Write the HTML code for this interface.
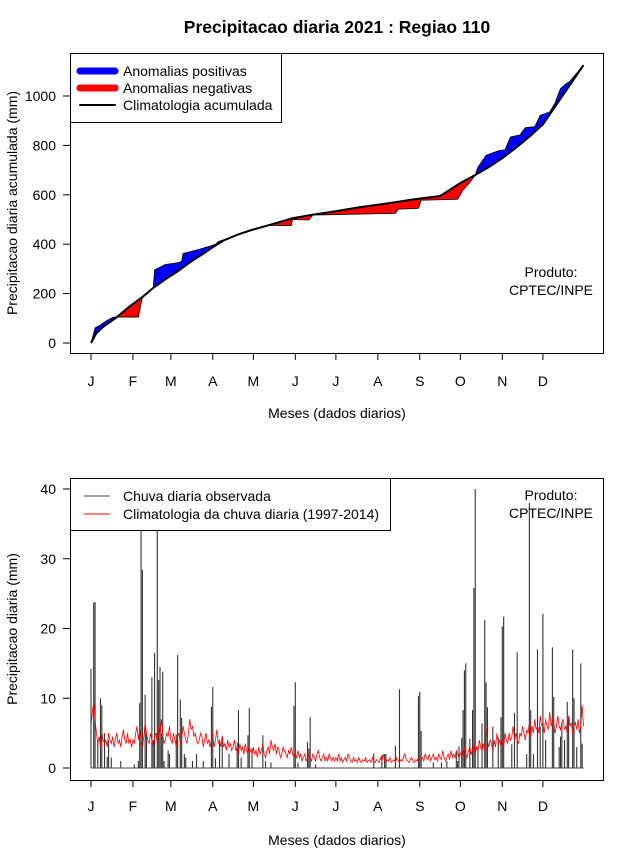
<!DOCTYPE html>
<html><head><meta charset="utf-8">
<style>
html,body{margin:0;padding:0;background:#fff;}
svg{display:block;font-family:"Liberation Sans",sans-serif;}
</style></head>
<body>
<svg id="c" width="640" height="850" viewBox="0 0 640 850"></svg>
<script>
// ---------- TOP CHART DATA (cumulative, mm) ----------
const climDays = [1,5,10,19,30,39,47,56,65,75,85,91,99,110,120,133,150,163,180,200,222,240,259,274,285,295,305,315,325,335,345,355,365];
const climCum  = [0,40,65,100,150,186,223,258,290,330,365,388,415,440,458,478,505,518,532,550,567,582,595,648,680,712,748,790,835,885,965,1045,1125];
const obsDays = [1,3,4,8,12,17,19,36,39,47,48,56,65,68,69,80,89,93,95,99,110,120,132,149,150,162,165,226,228,243,245,272,276,281,285,287,293,303,307,311,318,322,329,333,340,344,348,351,355,365];
const obsCum  = [0,40,61,73,88,103,105,105,186,223,296,318,325,330,362,378,392,400,410,418,440,458,476,476,500,498,518,525,542,545,578,582,620,650,680,712,760,780,782,834,842,872,876,922,935,972,1030,1045,1060,1125];
const topTicks = [0,200,400,600,800,1000];
const monthLabels = ["J","F","M","A","M","J","J","A","S","O","N","D"];
const monthStart = [1,32,60,91,121,152,182,213,244,274,305,335];
// ---------- BOTTOM CHART DATA (daily, mm) ----------
const rainDays = [1,3,4,6,8,9,11,13,14,16,23,33,36,37,38,39,41,42,46,47,48,50,51,52,53,54,55,58,59,64,65,67,68,70,71,76,79,84,90,91,93,96,98,103,109,110,112,117,118,120,128,130,134,151,152,154,161,162,163,167,210,216,218,219,226,229,243,244,245,254,260,264,271,272,273,275,276,277,278,281,283,284,285,287,290,292,293,294,298,302,304,305,306,312,314,316,323,325,326,328,331,333,335,337,342,343,347,348,349,351,353,354,357,358,360,363,364];
const rainVals = [14.2,23.7,23.8,4,10,9,5,1.6,4,1.5,1,0.5,1,9.3,39,28.4,10.5,5,13,4,16.5,39,12.6,14.5,5,13.8,1,2.5,2,4.8,16.2,9.8,7.2,2,1.5,1,2,1,8.8,11.6,1.4,3.6,4.6,2,3.6,8.3,1.5,4.7,8.6,2.8,4.7,1,0.8,8.9,12.3,0.8,3.7,2.8,7.3,0.5,2.1,1.8,2,2,3.2,11.3,10.3,10.9,5.3,0.8,0.8,1,2.2,1,3.1,4.3,8.3,14,15,4.2,8.3,25.8,40,3,6.4,21.2,12.3,8.7,5.9,4.4,7.3,20.3,21.7,3.4,7.9,16.6,2,38,8.3,2,17,5.9,22.1,4,17.3,10.2,3,4.5,6.5,4,9.5,7.2,17,10,3,15,3.5];
const climDaily = [
6,8,9.5,7,5,3.5,4.5,3,5,4,3.5,4,3,5,4,3.5,4.5,3,4,5,3.5,4,3,4.5,5.5,4,3.5,5,3.5,4,3,
4,3.5,5,6,4,5.5,4,3,4.5,6.5,5,4,3.5,5,4,3,4.5,5,3.5,6,4.5,7,5,3.5,4,5,4.5,6,
4,3.5,5,4,3,4.5,5,3.5,4,6,5,4,3.5,5,7,5.5,6,4.5,5,4,3.5,4,5,4.5,3,4,5,3.5,4,3,4,
5,3,4,5.5,3.5,4,3,4.5,3,3.5,2.5,4,3,3.5,2.5,3,4,2.5,3,2,3.5,2.5,3,2,3.5,2.5,2,3,2.5,2,
3,2,2.5,1.5,3,2,2.5,3.5,2,1.5,2.5,3,2,4,3,2.5,3.5,2,3,2.5,1.5,2,3,2.5,2,1.5,2.5,2,3,2,1.5,
2,1.5,2.5,1.5,2,1,1.5,2,1,1.5,2,1.5,1,2,1.5,1,2,2.5,1.5,1,1.5,2,1,1.5,1,2,1.5,1,1.5,1,
1.5,1,2,1,1.5,0.8,1.2,1.5,1,2,1.5,1,0.8,1.5,1,1.2,0.8,1.5,1,0.8,1.2,1,1.5,0.8,1,1.2,0.8,1.5,1,0.8,1.2,
1,0.8,1.5,1,2,1,0.8,1.2,1,1.5,0.8,1,1.2,0.8,1.5,1,0.8,1.2,1,1.5,2,1.2,1,0.8,1.2,1.5,1,0.8,1.2,1,1.5,
1,1.2,1.5,1,2,1.5,1.2,2,1,1.5,2,1.2,1.5,1,2,1.5,1.2,2.5,1.5,1,1.5,2,1.2,2.5,1.5,2,1.5,2.5,2,1.5,
2,2.5,1.5,3,2,1.5,2.5,3,2,2.5,3.5,2,3,2.5,4,3,2.5,3.5,2.5,6,4,3,4,3.5,2.5,4,3,5,3.5,4,3,
4,3,5,4,3.5,5,4,4.5,6,4,5,4,3.5,5,4.5,6,5,4,5.5,5,6.5,4.5,6,5,7,5.5,6,5,7.5,6,
6.5,5,7,6,5.5,8,6,7,6.5,5,6,7.5,6,5.5,6.5,7,5.5,6,5,7.5,6,6.5,5,6,6.5,5.5,7,5,6,9,6];
const botTicks = [0,10,20,30,40];

const NS="http://www.w3.org/2000/svg";
const svg=document.getElementById('c');
function mk(tag,attrs,parent){const e=document.createElementNS(NS,tag);for(const k in attrs)e.setAttribute(k,attrs[k]);(parent||svg).appendChild(e);return e;}
function txt(s,x,y,attrs,parent){const t=mk('text',Object.assign({x:x,y:y},attrs),parent);t.textContent=s;return t;}

const xDay=d=>91+(d-1)*1.353;
const yTop=v=>343-v*0.247;
const yBot=v=>768-v*6.975;

// title
let t=txt('Precipitacao diaria 2021 : Regiao 110',337,33,{'text-anchor':'middle','font-size':'17.5','font-weight':'bold'});



// ===== TOP CHART =====
const gTop=mk('g',{});


const defs=mk('defs',{});
const climPts=climDays.map((d,i)=>[xDay(d),yTop(climCum[i])]);
const obsPts=obsDays.map((d,i)=>[xDay(d),yTop(obsCum[i])]);
const climStr=climPts.map(p=>p.join(',')).join(' ');
let cpA=mk('clipPath',{id:'above'},defs);
mk('polygon',{points:xDay(1)+',0 '+climStr+' '+xDay(365)+',0'},cpA);
let cpB=mk('clipPath',{id:'below'},defs);
mk('polygon',{points:xDay(1)+',400 '+climStr+' '+xDay(365)+',400'},cpB);
const betweenStr=obsPts.map(p=>p.join(',')).join(' ')+' '+climPts.slice().reverse().map(p=>p.join(',')).join(' ');
let pos=mk('polygon',{points:betweenStr,fill:'#0000ff',stroke:'#000','stroke-width':'0.8','clip-path':'url(#above)'},gTop);


let neg=mk('polygon',{points:betweenStr,fill:'#ff0000',stroke:'#000','stroke-width':'0.8','clip-path':'url(#below)'},gTop);


let cl=mk('polyline',{points:climStr,fill:'none',stroke:'#000','stroke-width':'2'},gTop);


let fr=mk('rect',{x:70.5,y:53.5,width:533,height:300,fill:'none',stroke:'#000','stroke-width':'1'},gTop);


topTicks.forEach(v=>{
  mk('line',{x1:63,x2:70,y1:yTop(v),y2:yTop(v),stroke:'#000'},gTop);
  let l=txt(String(v),56,yTop(v)+5,{'text-anchor':'end','font-size':'14'},gTop);
  
  
});
monthStart.forEach((d,i)=>{
  mk('line',{x1:xDay(d),x2:xDay(d),y1:353,y2:360,stroke:'#000'},gTop);
  let l=txt(monthLabels[i],xDay(d),386,{'text-anchor':'middle','font-size':'14'},gTop);
  
  
});
t=txt('Meses (dados diarios)',337,418,{'text-anchor':'middle','font-size':'14'},gTop);


t=txt('Precipitacao diaria acumulada (mm)',0,0,{'text-anchor':'middle','font-size':'14',transform:'translate(17,203) rotate(-90)'},gTop);


t=txt('Produto:',551,277,{'text-anchor':'middle','font-size':'14'},gTop);


t=txt('CPTEC/INPE',551,295,{'text-anchor':'middle','font-size':'14'},gTop);


const lg=mk('g',{},gTop);


mk('rect',{x:70.5,y:53.5,width:211,height:69,fill:'#fff',stroke:'#000'},lg);
[['Anomalias positivas','#0000ff',7,71],['Anomalias negativas','#ff0000',7,88],['Climatologia acumulada','#000',2,105]].forEach(e=>{
  const g=mk('g',{},lg);
  
  
  mk('line',{x1:80,x2:115,y1:e[3],y2:e[3],stroke:e[1],'stroke-width':e[2],'stroke-linecap':'round'},g);
  txt(e[0],123,e[3]+5,{'font-size':'14'},g);
});

// ===== BOTTOM CHART =====
const gB=mk('g',{});


rainDays.forEach((d,i)=>{
  const b=mk('line',{x1:xDay(d),x2:xDay(d),y1:yBot(0),y2:yBot(rainVals[i]),stroke:'#333','stroke-width':'1.1'},gB);
  
  
});
mk('line',{x1:xDay(1),x2:xDay(365),y1:yBot(0),y2:yBot(0),stroke:'#444','stroke-width':'1'},gB);
let cd=mk('polyline',{points:climDaily.map((v,i)=>xDay(i+1)+','+yBot(v)).join(' '),fill:'none',stroke:'#ff0000','stroke-width':'0.8'},gB);


fr=mk('rect',{x:70.5,y:478.5,width:533,height:302,fill:'none',stroke:'#000'},gB);


botTicks.forEach(v=>{
  mk('line',{x1:63,x2:70,y1:yBot(v),y2:yBot(v),stroke:'#000'},gB);
  let l=txt(String(v),56,yBot(v)+5,{'text-anchor':'end','font-size':'14'},gB);
  
  
});
monthStart.forEach((d,i)=>{
  mk('line',{x1:xDay(d),x2:xDay(d),y1:780,y2:787,stroke:'#000'},gB);
  let l=txt(monthLabels[i],xDay(d),811,{'text-anchor':'middle','font-size':'14'},gB);
  
  
});
t=txt('Meses (dados diarios)',337,845,{'text-anchor':'middle','font-size':'14'},gB);


t=txt('Precipitacao diaria (mm)',0,0,{'text-anchor':'middle','font-size':'14',transform:'translate(17,629) rotate(-90)'},gB);


t=txt('Produto:',551,500,{'text-anchor':'middle','font-size':'14'},gB);


t=txt('CPTEC/INPE',551,518,{'text-anchor':'middle','font-size':'14'},gB);


const lg2=mk('g',{},gB);


mk('rect',{x:70.5,y:478.5,width:320,height:52,fill:'#fff',stroke:'#000'},lg2);
[['Chuva diaria observada','#444',496],['Climatologia da chuva diaria (1997-2014)','#ff0000',514]].forEach(e=>{
  const g=mk('g',{},lg2);
  
  
  mk('line',{x1:84,x2:110,y1:e[2],y2:e[2],stroke:e[1],'stroke-width':'1'},g);
  txt(e[0],123,e[2]+5,{'font-size':'14'},g);
});
</script>
</body></html>
